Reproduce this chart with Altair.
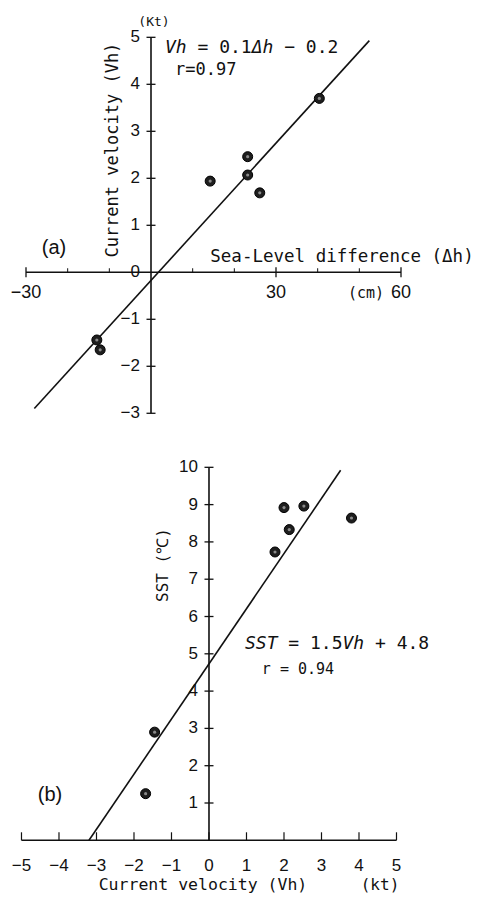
import altair as alt
import pandas as pd

# ---------------- Panel (a): sea-level difference vs current velocity ----------------
dh = [40.4, 23.2, 23.2, 14.2, 26.1, -13.0, -12.2]
vh_a = [3.70, 2.46, 2.07, 1.94, 1.69, -1.44, -1.65]
fit_a_x = [-28.0, 52.4]
fit_a_y = [-2.9, 4.93]
ya_tick_vals = [-3, -2, -1, 1, 2, 3, 4, 5]
ya_label_vals = [-3, -2, -1, 0, 1, 2, 3, 4, 5]
xa_major = [-30, 30, 60]
xa_minor = [-20, -10, 10, 20, 40, 50]

# ---------------- Panel (b): current velocity vs SST ----------------
vh_b = [2.00, 2.53, 3.80, 2.14, 1.76, -1.45, -1.69]
sst = [8.92, 8.96, 8.64, 8.33, 7.73, 2.90, 1.25]
fit_b_x = [-3.2, 3.51]
fit_b_y = [0.0, 9.92]
xb_tick_vals = [-5, -4, -3, -2, -1, 0, 1, 2, 3, 4, 5]
yb_tick_vals = [1, 2, 3, 4, 5, 6, 7, 8, 9, 10]

MONO = "DejaVu Sans Mono"
SANS = "Liberation Sans"
INK = "#111111"


def lab(v):
    return str(v).replace("-", "\u2212")


def enc(sx, sy):
    return dict(x=alt.X("x:Q", scale=sx, axis=None),
                y=alt.Y("y:Q", scale=sy, axis=None))


def txt(sx, sy, xs, ys, labels, **kw):
    df = pd.DataFrame({"x": xs, "y": ys, "label": labels})
    return alt.Chart(df).mark_text(color=INK, **kw).encode(text="label:N", **enc(sx, sy))


def hrule(sx, sy, x1, x2, y):
    df = pd.DataFrame({"x": [x1], "x2": [x2], "y": [y]})
    return alt.Chart(df).mark_rule(color=INK, strokeWidth=1.6).encode(
        x=alt.X("x:Q", scale=sx, axis=None), x2="x2:Q", y=alt.Y("y:Q", scale=sy, axis=None))


def vrule(sx, sy, x, y1, y2):
    df = pd.DataFrame({"x": [x], "y": [y1], "y2": [y2]})
    return alt.Chart(df).mark_rule(color=INK, strokeWidth=1.6).encode(
        x=alt.X("x:Q", scale=sx, axis=None), y=alt.Y("y:Q", scale=sy, axis=None), y2="y2:Q")


def ticks(sx, sy, xs, ys, **kw):
    df = pd.DataFrame({"x": xs, "y": ys})
    return alt.Chart(df).mark_tick(color=INK, opacity=1, **kw).encode(**enc(sx, sy))


def fit(sx, sy, xs, ys):
    df = pd.DataFrame({"x": xs, "y": ys})
    return alt.Chart(df).mark_line(color=INK, strokeWidth=1.6).encode(**enc(sx, sy))


def dots(sx, sy, xs, ys):
    df = pd.DataFrame({"x": xs, "y": ys})
    outer = alt.Chart(df).mark_point(filled=True, shape="circle", size=100, color="#1e1e1e",
                                     opacity=1, stroke="#000000", strokeWidth=1).encode(**enc(sx, sy))
    inner = alt.Chart(df).mark_point(filled=True, shape="circle", size=10, color="#8a8a8a",
                                     opacity=1).encode(**enc(sx, sy))
    return [outer, inner]


def equation(sx, sy, x, y, pieces, size):
    adv = 0.602 * size
    layers = []
    for idx, s, italic in pieces:
        kw = dict(font=MONO, fontSize=size, align="left", baseline="middle", dx=idx * adv)
        if italic:
            kw["fontStyle"] = "italic"
        layers.append(txt(sx, sy, [x], [y], [s], **kw))
    return layers


# ---------------- build panel (a) ----------------
sxa = alt.Scale(domain=[-36.24, 78.72], nice=False, zero=False)
sya = alt.Scale(domain=[-3.143, 5.794], nice=False, zero=False)

layers_a = [
    hrule(sxa, sya, -30, 60, 0),
    vrule(sxa, sya, 0, -3, 5),
    ticks(sxa, sya, [0] * len(ya_tick_vals), ya_tick_vals, orient="horizontal", size=9, thickness=1.3),
    ticks(sxa, sya, xa_major, [0] * len(xa_major), orient="vertical", size=10, thickness=1.3),
    ticks(sxa, sya, xa_minor, [0] * len(xa_minor), orient="vertical", size=4, thickness=1, yOffset=-2),
    txt(sxa, sya, [0] * len(ya_label_vals), ya_label_vals, [lab(v) for v in ya_label_vals],
        font=SANS, fontSize=17, align="right", baseline="middle", dx=-11),
    txt(sxa, sya, xa_major, [0] * len(xa_major), [lab(v) for v in xa_major],
        font=SANS, fontSize=18, align="center", baseline="middle", dy=21),
    fit(sxa, sya, fit_a_x, fit_a_y),
    *dots(sxa, sya, dh, vh_a),
    txt(sxa, sya, [0.72], [5.33], ["(Kt)"], font=MONO, fontSize=13, align="center", baseline="middle"),
    txt(sxa, sya, [-9.12], [2.60], ["Current velocity (Vh)"], font=MONO, fontSize=17,
        align="center", baseline="middle", angle=270),
    txt(sxa, sya, [45.84], [0.33], ["Sea-Level difference (\u0394h)"], font=MONO, fontSize=17.5,
        align="center", baseline="middle"),
    txt(sxa, sya, [-23.28], [0.52], ["(a)"], font=SANS, fontSize=20, align="center", baseline="middle"),
    txt(sxa, sya, [55.92], [-0.45], ["(cm)"], font=MONO, fontSize=15, align="right", baseline="middle"),
    *equation(sxa, sya, 3.36, 4.77,
              [(0, "Vh", True), (3, "= 0.1", False), (8, "\u0394h", True), (11, "\u2212 0.2", False)], 18),
    txt(sxa, sya, [5.76], [4.30], ["r=0.97"], font=MONO, fontSize=17, align="left", baseline="middle"),
]
panel_a = alt.layer(*layers_a).properties(width=479, height=420)

# ---------------- build panel (b) ----------------
sxb = alt.Scale(domain=[-5.573, 7.20], nice=False, zero=False)
syb = alt.Scale(domain=[-1.574, 11.215], nice=False, zero=False)

layers_b = [
    hrule(sxb, syb, -5, 5, 0),
    vrule(sxb, syb, 0, 0, 10),
    ticks(sxb, syb, [0] * len(yb_tick_vals), yb_tick_vals, orient="horizontal", size=9, thickness=1.3),
    ticks(sxb, syb, xb_tick_vals, [0] * len(xb_tick_vals), orient="vertical", size=8, thickness=1.2,
          yOffset=-4),
    txt(sxb, syb, [0] * len(yb_tick_vals), yb_tick_vals, [lab(v) for v in yb_tick_vals],
        font=SANS, fontSize=17, align="right", baseline="middle", dx=-11),
    txt(sxb, syb, xb_tick_vals, [0] * len(xb_tick_vals), [lab(v) for v in xb_tick_vals],
        font=SANS, fontSize=17, align="center", baseline="middle", dy=26),
    fit(sxb, syb, fit_b_x, fit_b_y),
    *dots(sxb, syb, vh_b, sst),
    txt(sxb, syb, [-1.227], [7.38], ["SST (\u2103)"], font=MONO, fontSize=16,
        align="center", baseline="middle", angle=270),
    *equation(sxb, syb, 0.96, 5.26,
              [(0, "SST", True), (4, "= 1.5", False), (9, "Vh", True), (12, "+ 4.8", False)], 18),
    txt(sxb, syb, [1.41], [4.59], ["r = 0.94"], font=MONO, fontSize=15, align="left", baseline="middle"),
    txt(sxb, syb, [-4.24], [1.21], ["(b)"], font=SANS, fontSize=20, align="center", baseline="middle"),
    txt(sxb, syb, [-0.16], [-1.20], ["Current velocity (Vh)"], font=MONO, fontSize=16.5,
        align="center", baseline="middle"),
    txt(sxb, syb, [4.56], [-1.20], ["(kt)"], font=MONO, fontSize=16, align="center", baseline="middle"),
]
panel_b = alt.layer(*layers_b).properties(width=479, height=477)

chart = alt.vconcat(panel_a, panel_b, spacing=0).properties(
    padding=0, background="white"
).configure_view(strokeWidth=0)

chart.save("out.html", embed_options={"renderer": "svg", "actions": False})
